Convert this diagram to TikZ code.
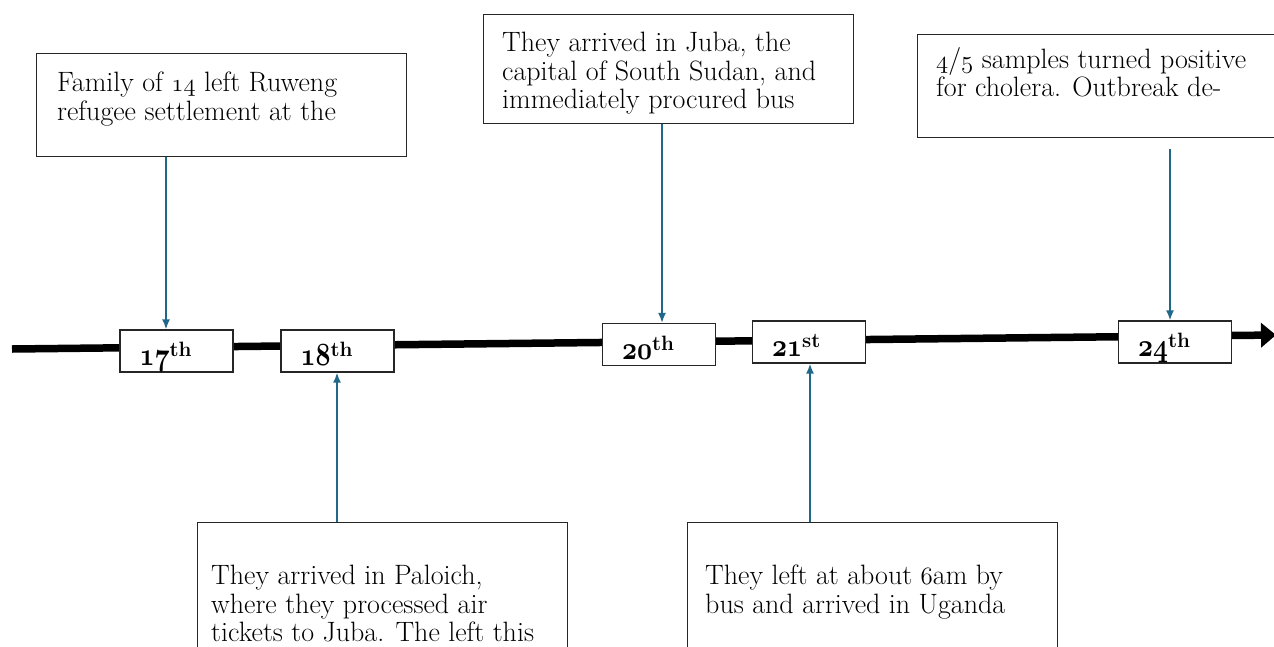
\documentclass[tikz,border=0pt]{standalone}
\usetikzlibrary{arrows.meta, calc}
\definecolor{evblue}{RGB}{31,104,138}
\newcommand\evfont{\fontsize{28}{28.5}\selectfont}
\newcommand\dtfont{\fontsize{24.88}{28}\selectfont\bfseries}
\newcommand\osnum[1]{{\fontencoding{OML}\fontfamily{cmm}\fontshape{it}\selectfont #1}}
\newcommand\dt[2]{\scalebox{1.05}[1.3]{\fontencoding{OML}\fontfamily{cmm}\fontseries{b}\fontshape{it}\selectfont #1}\textsuperscript{#2}}
\tikzset{
	evbox/.style={
		draw=black!85,
		line width=1.3pt,
		anchor=north west,
		inner sep=0pt,
		minimum width=370pt
	},
	evtext/.style={
		anchor=north west,
		align=left,
		inner sep=0pt,
		font=\evfont
	},
	datebox/.style={
		draw=black!85,
		fill=white,
		line width=1.3pt,
		inner sep=0pt,
		minimum width=113pt,
		minimum height=42pt
	},
	datelbl/.style={
		anchor=base west,
		inner sep=0pt,
		font=\dtfont
	},
	evarr/.style={
		-{Latex[length=10pt, width=8pt]},
		draw=evblue,
		line width=1.6pt
	}
}
\begin{document}
\begin{tikzpicture}[x=1pt, y=-1pt]
\useasboundingbox (0,0) rectangle (1274,646);

% timeline
\coordinate (tl0) at (12,349);
\coordinate (tl1) at (1276,335);
\draw[line width=7.5pt, -{Triangle[length=15pt, width=24pt]}] (tl0) -- (tl1);

% date boxes on the line
\foreach \d/\x/\y/\s in {17/176.5/351/th, 18/337.5/351/th, 20/659/344.5/th, 21/809/342/st, 24/1175/342/th} {
	\node[datebox] (D\d) at (\x, \y) {};
	\node[datelbl] (L\d) at ($(D\d.south west)+(20,-7)$) {\dt{\d}{\s}};
}

% events above the line
\node[evbox, minimum height=103pt] (E17) at (36,53) {};
\node[evtext] (T17) at ($(E17.north west)+(21,19)$) {Family of \osnum{14} left Ruweng\\refugee settlement at the};
\node[evbox, minimum height=109pt] (E20) at (483,14) {};
\node[evtext] (T20) at ($(E20.north west)+(19,18)$) {They arrived in Juba, the\\capital of South Sudan, and\\immediately procured bus};
\node[evbox, minimum height=103pt] (E24) at (917,34) {};
\node[evtext] (T24) at ($(E24.north west)+(19,13)$) {\osnum{4}/\osnum{5} samples turned positive\\for cholera. Outbreak de-};

% events below the line
\node[evbox, minimum height=140pt] (E18) at (197,522) {};
\node[evtext] (T18) at ($(E18.north west)+(14,43)$) {They arrived in Paloich,\\where they processed air\\tickets to Juba. The left this};
\node[evbox, minimum height=140pt] (E21) at (687,522) {};
\node[evtext] (T21) at ($(E21.north west)+(18,43)$) {They left at about \osnum{6}am by\\bus and arrived in Uganda};

% connectors
\coordinate (x17) at (166,0);
\coordinate (x18) at (337,0);
\coordinate (x20) at (662,0);
\coordinate (x21) at (810,0);
\coordinate (x24) at (1170,0);
\draw[evarr] (E17.south -| x17) -- (D17.north -| x17);
\draw[evarr] (E18.north -| x18) -- (D18.south -| x18);
\draw[evarr] (E20.south -| x20) -- (D20.north -| x20);
\draw[evarr] (E21.north -| x21) -- (D21.south -| x21);
\draw[evarr, shorten <=11pt] (E24.south -| x24) -- (D24.north -| x24);
\end{tikzpicture}
\end{document}
